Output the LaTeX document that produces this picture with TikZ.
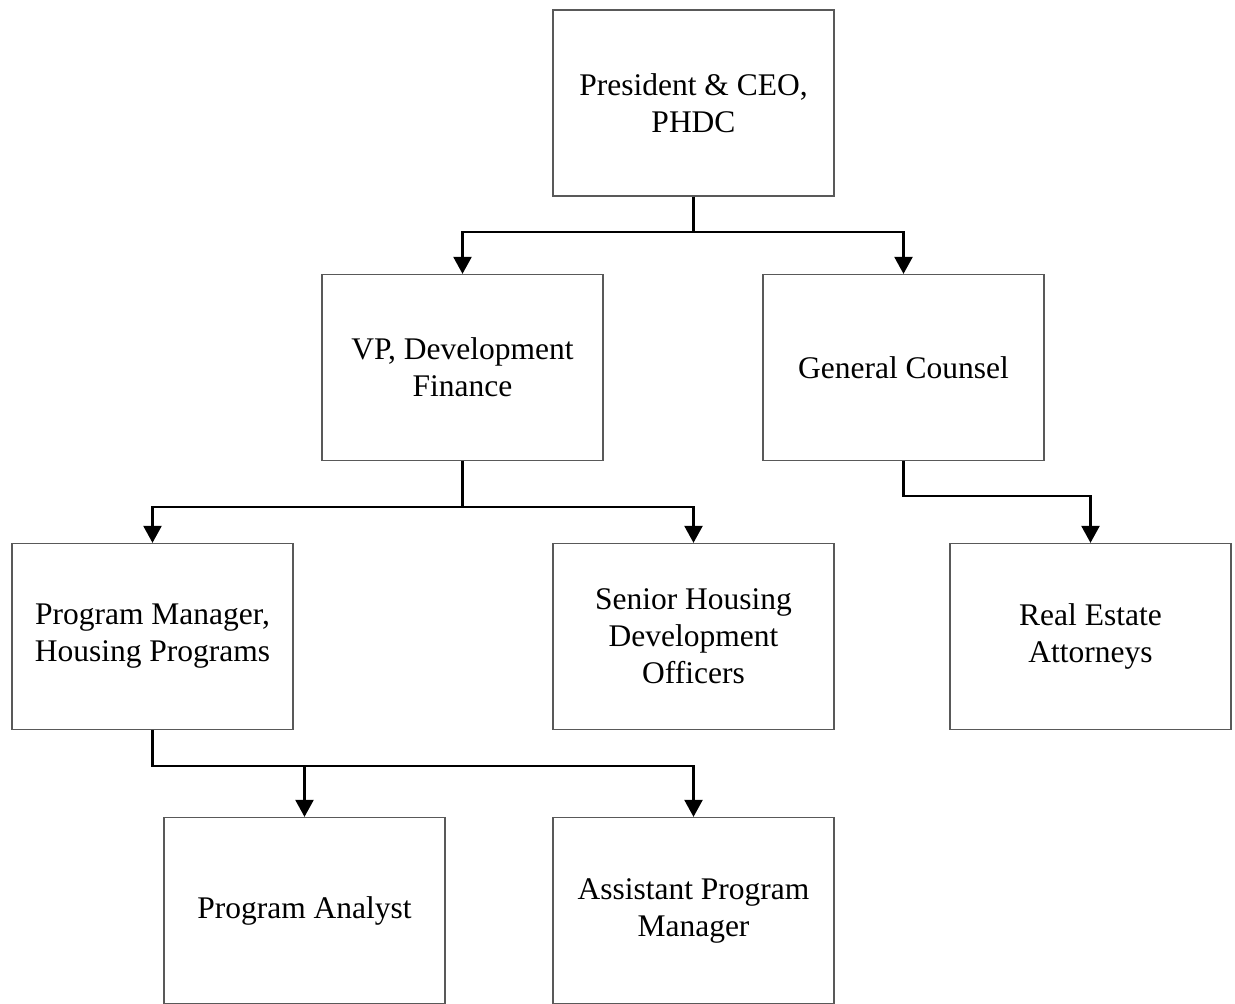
\documentclass[tikz,border=0pt]{standalone}
\usepackage{fontspec}
\setmainfont{Liberation Serif}
\usetikzlibrary{arrows.meta}
\begin{document}
\begin{tikzpicture}[x=1pt,y=-1pt,
  box/.style={draw=black!65,line width=1.3pt,minimum width=281pt,minimum height=186pt,
    align=center,font=\fontsize{31.5}{37}\selectfont,inner sep=0pt},
  conn/.style={line width=2.4pt,black,line join=miter},
  arr/.style={conn,-{Triangle[length=17pt,width=18pt]}}]
\useasboundingbox (0,0) rectangle (1235,1004);
\node[box] (pres) at (693.5,103) {President \& CEO,\\PHDC};
\node[box] (vp) at (462.5,367.5) {VP, Development\\Finance};
\node[box] (gc) at (903.5,367.5) {General Counsel};
\node[box] (pm) at (152.5,636.5) {Program Manager,\\Housing Programs};
\node[box] (sh) at (693.5,636.5) {Senior Housing\\Development\\Officers};
\node[box] (re) at (1090.5,636.5) {Real Estate\\Attorneys};
\node[box] (pa) at (304.5,910.5) {Program Analyst};
\node[box] (apm) at (693.5,910.5) {Assistant Program\\Manager};
% president
\coordinate (j1) at (693.5,232);
\draw[arr] (pres.south) -- (j1) -| (vp.north);
\draw[arr] (j1) -| (gc.north);
% vp
\coordinate (j2) at (462.5,507);
\draw[arr] (vp.south) -- (j2) -| (pm.north);
\draw[arr] (j2) -| (sh.north);
% gc
\coordinate (j3) at (903.5,496);
\draw[arr] (gc.south) -- (j3) -| (re.north);
% pm
\coordinate (j4) at (152.5,766);
\draw[arr] (pm.south) -- (j4) -| (apm.north);
\draw[arr] (j4) -| (pa.north);
\end{tikzpicture}
\end{document}
